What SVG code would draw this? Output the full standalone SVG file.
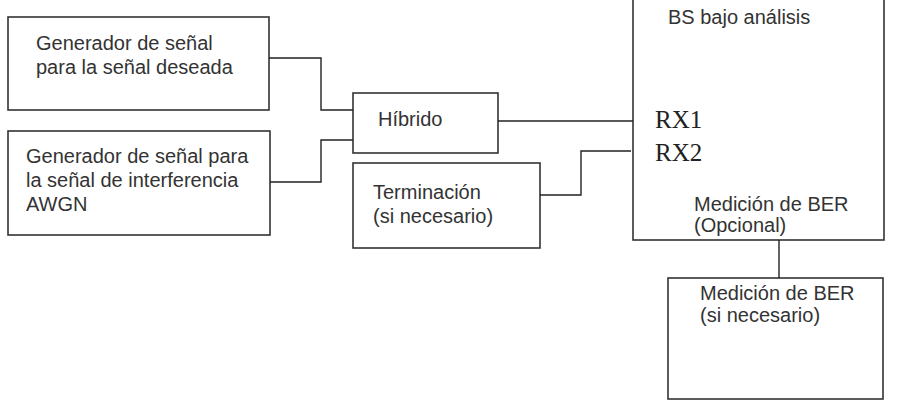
<svg xmlns="http://www.w3.org/2000/svg" width="898" height="408" viewBox="0 0 898 408">
<style>
.box{fill:#fff;stroke:#333;stroke-width:1.6}
.t{font-family:"Liberation Sans",Arial,sans-serif;font-size:20px;fill:#333}
.rx{font-family:"Liberation Serif","Times New Roman",serif;font-size:25px;fill:#222}
.c{fill:none;stroke:#222;stroke-width:1.4}
</style>
<rect width="898" height="408" fill="#fff"/>
<g id="gen1"><rect class="box" x="8" y="17" width="261" height="93"/>
<text class="t" x="36" y="50">Generador de señal</text>
<text class="t" x="36" y="74">para la señal deseada</text></g>
<g id="gen2"><rect class="box" x="8" y="131" width="262" height="104"/>
<text class="t" x="26" y="163">Generador de señal para</text>
<text class="t" x="26" y="187">la señal de interferencia</text>
<text class="t" x="26" y="211">AWGN</text></g>
<g id="hibrido"><rect class="box" x="353" y="93" width="145" height="60"/>
<text class="t" x="378" y="126">Híbrido</text></g>
<g id="term"><rect class="box" x="353" y="163" width="187" height="85"/>
<text class="t" x="373" y="199">Terminación</text>
<text class="t" x="373" y="223">(si necesario)</text></g>
<g id="bs"><rect class="box" x="633" y="-4" width="251" height="244"/>
<text class="t" x="668" y="24">BS bajo análisis</text>
<text class="rx" x="655" y="128">RX1</text>
<text class="rx" x="655" y="161">RX2</text>
<text class="t" x="694" y="211">Medición de BER</text>
<text class="t" x="694" y="232">(Opcional)</text></g>
<g id="ber"><rect class="box" x="668" y="278" width="215" height="121"/>
<text class="t" x="700" y="300">Medición de BER</text>
<text class="t" x="700" y="322">(si necesario)</text></g>
<g id="connectors">
<polyline class="c" points="269,58 321,58 321,110 353,110"/>
<polyline class="c" points="270,182 321,182 321,140 353,140"/>
<polyline class="c" points="498,121 633,121"/>
<polyline class="c" points="540,195 581,195 581,151 631,151"/>
<polyline class="c" points="779,240 779,278"/>
</g>
</svg>
